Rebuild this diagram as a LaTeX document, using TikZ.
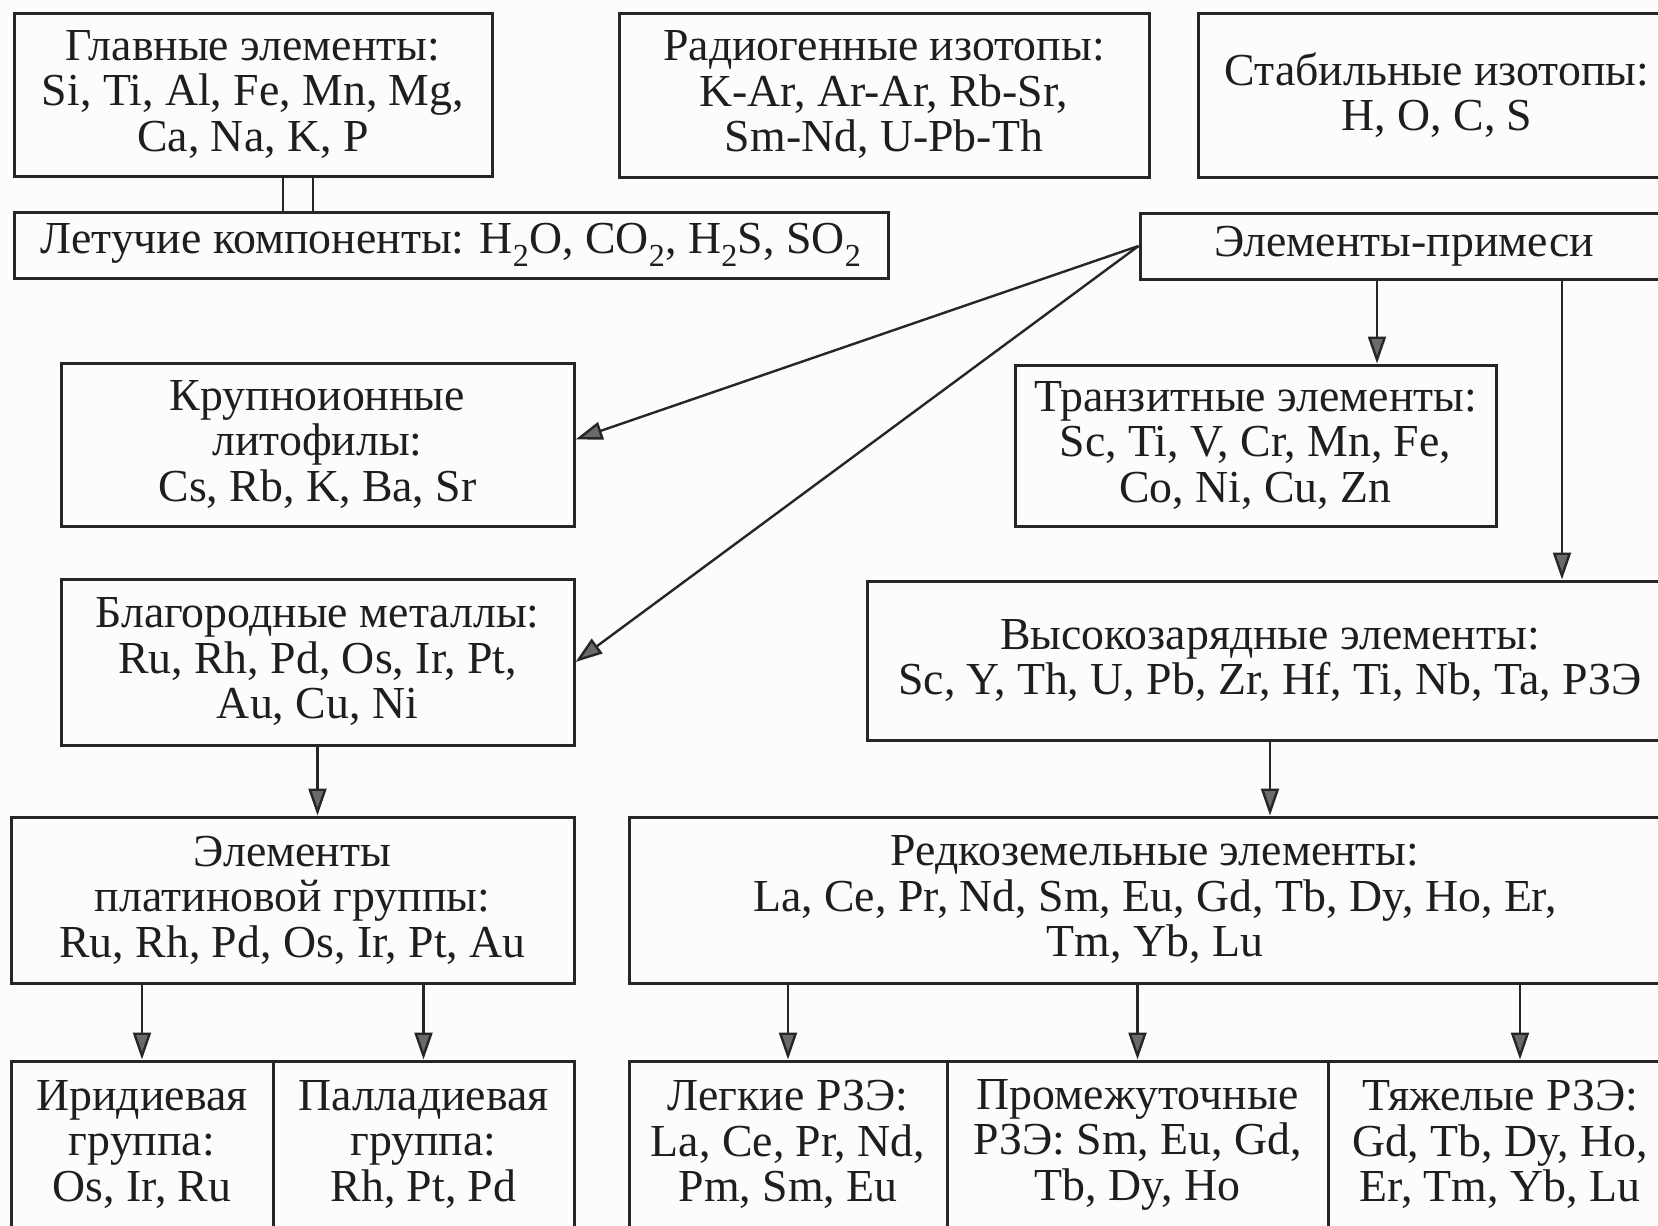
\documentclass[tikz,border=0pt]{standalone}
\usepackage{fontspec}
\setmainfont{Liberation Serif}
\usetikzlibrary{arrows.meta,calc}
\definecolor{linec}{HTML}{262626}
\definecolor{textc}{HTML}{1E1E1E}
\definecolor{headc}{HTML}{6A6A6A}
\definecolor{bgc}{HTML}{FCFCFC}
\begin{document}
\begin{tikzpicture}[x=1pt,y=-1pt,
  box/.style={draw=linec, line width=3pt, inner sep=0pt, align=center, text=textc,
    font=\fontsize{45.8}{45.5}\selectfont},
  conn/.style={draw=linec, line width=2.4pt},
  arr/.style={conn, -{Triangle[length=27pt,width=18pt,fill=headc]}}]
\useasboundingbox (0,0) rectangle (1658,1226);
\clip (0,0) rectangle (1658,1226);
\fill[bgc] (0,0) rectangle (1658,1226);

% top row
\node[box, minimum width=478pt, minimum height=163pt] (g) at (253,94.5)
  {Главные элементы:\\Si, Ti, Al, Fe, Mn, Mg,\\Ca, Na, K, P};
\node[box, minimum width=530pt, minimum height=164pt] (r) at (884,95)
  {Радиогенные изотопы:\\K-Ar, Ar-Ar, Rb-Sr,\\Sm-Nd, U-Pb-Th};
\node[box, minimum width=478pt, minimum height=164pt] (s) at (1437,95)
  {Стабильные изотопы:\\H, O, C, S};

% second row
\node[box, minimum width=874pt, minimum height=66pt] (l) at (451,245)
  {Летучие компоненты: H\textsubscript{2}O, CO\textsubscript{2}, H\textsubscript{2}S, SO\textsubscript{2}};
\node[box, minimum width=528pt, minimum height=66pt] (p) at (1404,246)
  {Элементы-примеси};

% third row
\node[box, minimum width=513pt, minimum height=163pt] (k) at (317.5,444.5)
  {Крупноионные\\литофилы:\\Cs, Rb, K, Ba, Sr};
\node[box, minimum width=481pt, minimum height=161pt] (t) at (1255.5,445.5)
  {Транзитные элементы:\\Sc, Ti, V, Cr, Mn, Fe,\\Co, Ni, Cu, Zn};

% fourth row
\node[box, minimum width=513pt, minimum height=166pt] (b) at (317.5,662)
  {Благородные металлы:\\Ru, Rh, Pd, Os, Ir, Pt,\\Au, Cu, Ni};
\node[box, minimum width=806pt, minimum height=159pt] (v) at (1270,660.5)
  {Высокозарядные элементы:\\Sc, Y, Th, U, Pb, Zr, Hf, Ti, Nb, Ta, РЗЭ};

% fifth row
\node[box, minimum width=563pt, minimum height=166pt] (e) at (292.5,900)
  {Элементы\\платиновой группы:\\Ru, Rh, Pd, Os, Ir, Pt, Au};
\node[box, minimum width=1052pt, minimum height=166pt] (re) at (1155,900)
  {Редкоземельные элементы:\\La, Ce, Pr, Nd, Sm, Eu, Gd, Tb, Dy, Ho, Er,\\Tm, Yb, Lu};

% bottom row
\node[box, minimum width=262pt, minimum height=167pt] (ir) at (142,1144.5)
  {Иридиевая\\группа:\\Os, Ir, Ru};
\node[box, minimum width=301pt, minimum height=167pt] (pa) at (423.5,1144.5)
  {Палладиевая\\группа:\\Rh, Pt, Pd};
\node[box, minimum width=318pt, minimum height=167pt] (lg) at (788,1144.5)
  {Легкие РЗЭ:\\La, Ce, Pr, Nd,\\Pm, Sm, Eu};
\node[box, minimum width=381pt, minimum height=167pt] (pr) at (1137.5,1144.5)
  {Промежуточные\\РЗЭ: Sm, Eu, Gd,\\Tb, Dy, Ho};
\node[box, minimum width=344pt, minimum height=167pt] (tj) at (1500,1144.5)
  {Тяжелые РЗЭ:\\Gd, Tb, Dy, Ho,\\Er, Tm, Yb, Lu};

% helper coordinates
\coordinate (c1) at (283,0);
\coordinate (c2) at (313,0);
\coordinate (ct) at (1377,0);
\coordinate (cv) at (1562,0);
\coordinate (cj) at (1520,0);

% connectors
\draw[conn] (g.south -| c1) -- (l.north -| c1);
\draw[conn] (g.south -| c2) -- (l.north -| c2);
\draw[arr] (p.west) -- ([yshift=5pt]k.east);
\draw[arr] (p.west) -- (b.east);
\draw[arr] (p.south -| ct) -- (t.north -| ct);
\draw[arr] (p.south -| cv) -- (v.north -| cv);
\draw[arr] (b.south) -- (b.south |- e.north);
\draw[arr] (v.south) -- (v.south |- re.north);
\draw[arr] (e.south -| ir.north) -- (ir.north);
\draw[arr] (e.south -| pa.north) -- (pa.north);
\draw[arr] (re.south -| lg.north) -- (lg.north);
\draw[arr] (re.south -| pr.north) -- (pr.north);
\draw[arr] (re.south -| cj) -- (tj.north -| cj);
\end{tikzpicture}
\end{document}
